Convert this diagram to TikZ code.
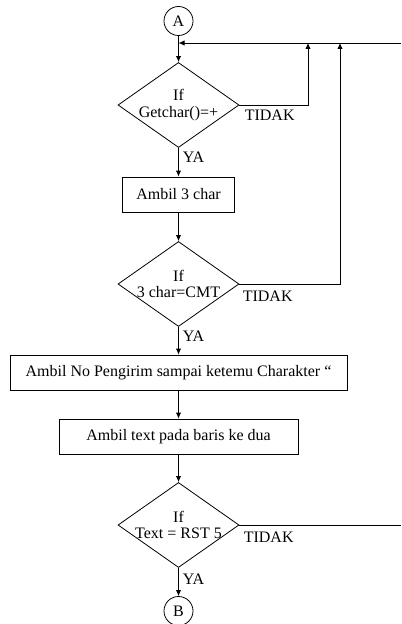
\documentclass[tikz,border=0pt]{standalone}
\usepackage{fontspec}
\setmainfont{Liberation Serif}
\usetikzlibrary{shapes.geometric,arrows.meta}
\begin{document}
\begin{tikzpicture}[x=0.75pt,y=-0.75pt,
    font=\fontsize{12}{12.5}\selectfont,
    line width=0.6pt,
    conn/.style={circle,draw,minimum size=21.75pt,inner sep=0pt},
    proc/.style={rectangle,draw,minimum height=26.25pt,inner sep=0pt},
    decision/.style={diamond,draw,minimum width=90.75pt,minimum height=63.75pt,inner sep=0pt},
    dtext/.style={align=center,inner sep=0pt},
    lbl/.style={inner sep=0pt,anchor=west},
    arr/.style={-{Latex[length=4.5pt,width=4pt]}}]
\useasboundingbox (0,0) rectangle (401,624);
    \node[conn] (A) at (178.5,21) {A};
    \node[decision] (d1) at (178.5,105) {};
    \node[dtext] (d1t) at (d1) {If\\Getchar()=+};
    \node[proc,minimum width=84pt] (b1) at (178.5,194.5) {Ambil 3 char};
    \node[decision] (d2) at (178.5,284) {};
    \node[dtext] (d2t) at (d2) {If\\3 char=CMT};
    \node[proc,minimum width=252.75pt] (b2) at (178.5,372.5) {Ambil No Pengirim sampai ketemu Charakter ``};
    \node[proc,minimum width=179.25pt] (b3) at (178.5,436.5) {Ambil text pada baris ke dua};
    \node[decision] (d3) at (178.5,525) {};
    \node[dtext] (d3t) at (d3) {If\\Text = RST 5};
    \node[conn] (B) at (178.5,611) {B};
    % loop back lines
    \coordinate (join) at (178.5,43);
    \coordinate (topR) at (401,43);
    \coordinate (r1) at (308,43);
    \coordinate (r2) at (340,43);
    \coordinate (d3R) at (401,525);
    \draw[arr] (A) -- (d1);
    \draw[arr] (topR) -- (join);
    \draw[arr] (d1.east) -| (r1);
    \draw[arr] (d2.east) -| (r2);
    \draw (d3.east) -- (d3R);
    \draw[arr] (d1) -- (b1);
    \draw[arr] (b1) -- (d2);
    \draw[arr] (d2) -- (b2);
    \draw[arr] (b2) -- (b3);
    \draw[arr] (b3) -- (d3);
    \draw[arr] (d3) -- (B);
    \node[lbl] (t1) at ([shift={(5,10)}]d1.east) {TIDAK};
    \node[lbl] (t2) at ([shift={(3,12)}]d2.east) {TIDAK};
    \node[lbl] (t3) at ([shift={(4,12)}]d3.east) {TIDAK};
    \node[lbl] (y1) at ([shift={(4,9)}]d1.south) {YA};
    \node[lbl] (y2) at ([shift={(4,9)}]d2.south) {YA};
    \node[lbl] (y3) at ([shift={(4,11)}]d3.south) {YA};
\end{tikzpicture}
\end{document}
